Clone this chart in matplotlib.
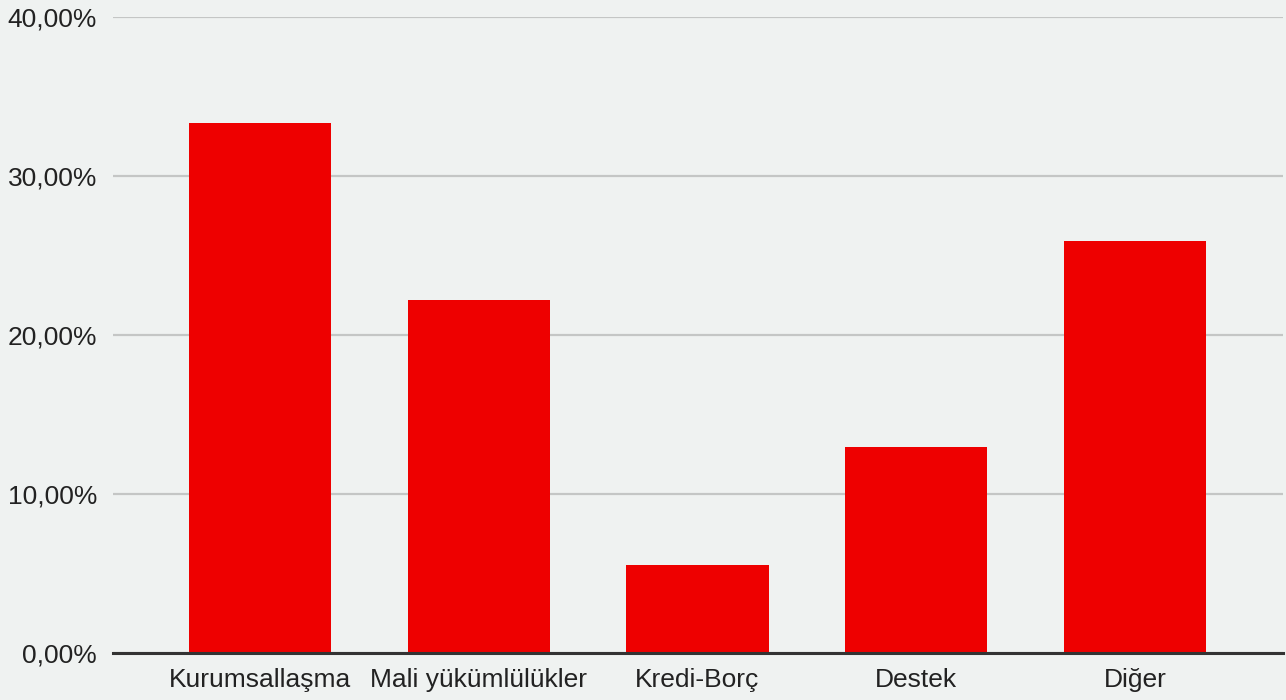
import matplotlib.pyplot as plt
from matplotlib.ticker import FuncFormatter

categories = ['Kurumsallaşma', 'Mali yükümlülükler', 'Kredi-Borç', 'Destek', 'Diğer']
values = [33.33, 22.22, 5.56, 12.96, 25.93]
yticks = [0, 10, 20, 30, 40]

bg = '#eff2f1'
plt.rcParams['font.family'] = ['Liberation Sans', 'DejaVu Sans']

fig = plt.figure(figsize=(12.86, 7.0), dpi=100, facecolor=bg)
ax = fig.add_axes([113 / 1286, 47 / 700, 1170 / 1286, 636 / 700], facecolor=bg)

x = range(len(categories))
ax.bar(x, values, width=0.65, color='#ee0000', zorder=3)

ax.set_ylim(0, 40)
ax.set_xlim(-0.672, 4.677)
ax.set_yticks(yticks)
ax.yaxis.set_major_formatter(FuncFormatter(lambda v, p: f'{v:.2f}%'.replace('.', ',')))
ax.set_xticks(list(x))
ax.set_xticklabels(categories)

ax.grid(axis='y', color='#c4c6c5', linewidth=1.6, zorder=0)
for s in ['top', 'right', 'left']:
    ax.spines[s].set_visible(False)
ax.spines['bottom'].set_color('#333333')
ax.spines['bottom'].set_linewidth(2.2)
ax.spines['bottom'].set_zorder(4)

ax.tick_params(axis='both', length=0, labelsize=19, labelcolor='#222222')
ax.tick_params(axis='y', pad=11.5)
ax.tick_params(axis='x', pad=11)

fig.savefig('out.png', dpi=100, facecolor=bg)
